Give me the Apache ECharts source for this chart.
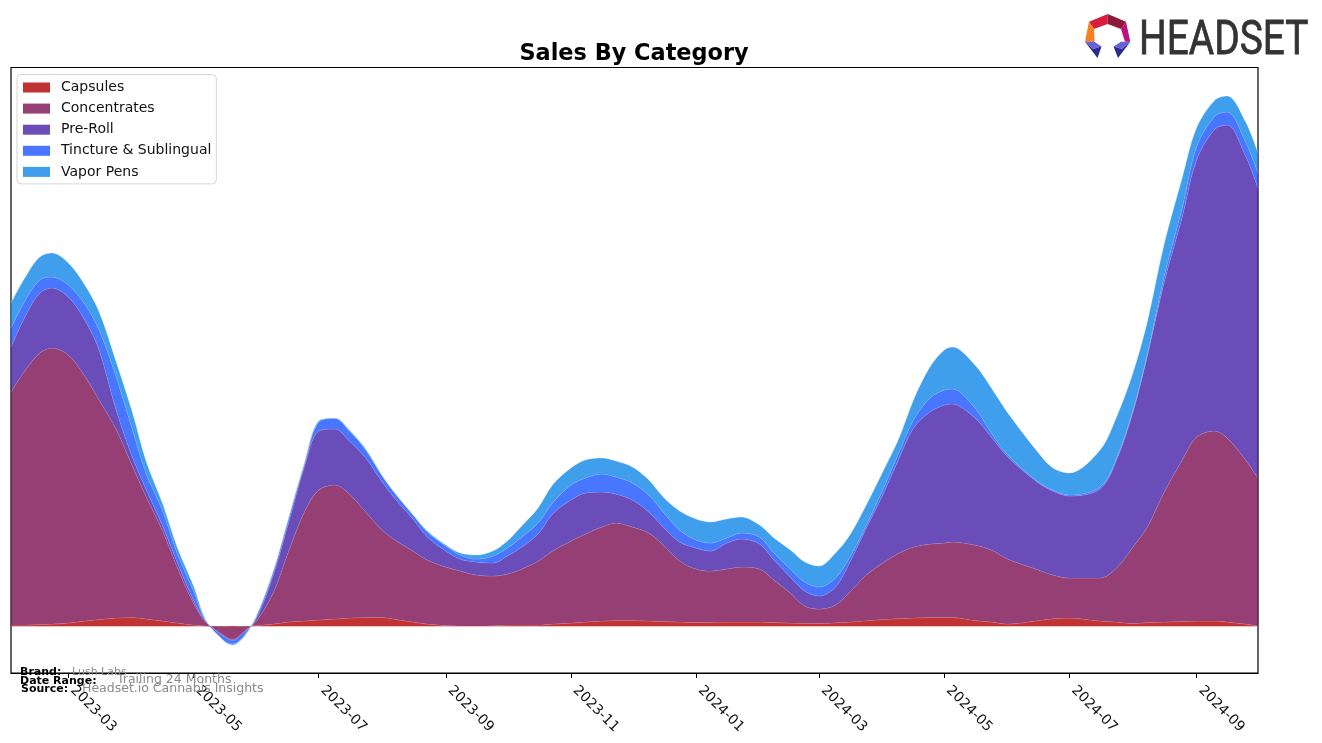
<!DOCTYPE html>
<html><head><meta charset="utf-8">
<style>html,body{margin:0;padding:0;background:#fff}#c{width:1322px;height:743px}</style>
<script src="https://cdn.jsdelivr.net/npm/echarts@6/dist/echarts.min.js"></script>
</head><body><div id="c"></div>
<script>
const dates = ['2023-02-01','2023-02-08','2023-02-15','2023-02-21','2023-03-01','2023-03-09','2023-03-16','2023-03-24','2023-04-01','2023-04-08','2023-04-16','2023-04-23','2023-05-01','2023-05-07','2023-05-16','2023-05-20','2023-05-26','2023-06-01','2023-06-09','2023-06-16','2023-06-24','2023-07-01','2023-07-09','2023-07-16','2023-07-24','2023-08-01','2023-08-08','2023-08-16','2023-08-23','2023-09-01','2023-09-08','2023-09-16','2023-09-24','2023-10-01','2023-10-08','2023-10-16','2023-10-23','2023-11-01','2023-11-08','2023-11-16','2023-11-23','2023-12-01','2023-12-09','2023-12-16','2023-12-24','2024-01-01','2024-01-08','2024-01-16','2024-01-23','2024-02-01','2024-02-08','2024-02-16','2024-02-23','2024-03-01','2024-03-09','2024-03-16','2024-03-24','2024-04-01','2024-04-09','2024-04-16','2024-04-24','2024-05-01','2024-05-05','2024-05-16','2024-05-24','2024-06-01','2024-06-16','2024-06-23','2024-07-01','2024-07-16','2024-07-24','2024-08-01','2024-08-08','2024-08-16','2024-08-25','2024-09-01','2024-09-10','2024-09-16','2024-09-25','2024-10-01'];
const capsules = [1,1,1.5,2,3,5,6.5,8,8.5,7,5,3,1,0,-0.5,-1,-0.5,0.5,2,4,5,6,7,8,8.5,8.5,6.5,4,2,0.5,0,0,0.3,1,1,1,2,3,4,5,5.5,5.5,5,4.5,4,3.5,3.7,4,4,4,3.5,3,2.7,2.5,3.3,4,5.3,6.5,7.5,8,8.5,8.5,8.5,5.5,4,2,5.5,7.3,8,5,4,2.5,3.5,4,4.5,5,5,4,2,0];
const concentrates = [233,255,271.5,276,268,245,219.5,190,152.5,122,90,56,22,4,-9.5,-12.5,-4.5,5.5,32,69,109,130,134,124,105.5,87.5,78.5,71,64,58.5,55,51,49.7,51,56,64,73,82,88,94,97.5,93.5,88,76.5,61,53.5,51.3,53,55,53,42.5,30,17.3,14.5,17.7,30,45.7,56.5,65.5,71,73.5,74.5,75.5,75.5,72,65,50.5,43.7,40,43,54,76.5,95.5,129,161.5,184,190,184,164,148];
const preRoll = [45,54,60,60,58,56,50,20,9,7,5,5,3,0.5,-1,-1,-1,3,18,28,45,59,56,53,54,48,40.5,32,23,16,12,13,13,18,22,27,37,41,41,35,29,27,21,18,19,21,20,26,28,25,20,16,15,13,18,30,47,68,95,119,132,138,138,127,113,102,87,84,82,89,108,135,171,209,243,277,302,313,304,290];
const tincture = [19,16,13,11,12,16,20,33,28,16,15,9,9,0.5,-4,-3.5,-3,2,3,4,3,9,10.5,10,8,6,5,4,5,5,4,3,7,8,10,11,11,15,15,18,17,17,17,15,12,8,8,5,6,7,7,8,9,9,9,5,3,5,6,8,14,15,15,10,4,2,1,1,1,2,2,2,2,6,9,13,13,13,14,15];
const vaporPens = [25,23,23,24,22,19,18,15,17,12,7,6,5,1,-0.5,-1,-1,1,1,1,1,1,0.5,1,1,0.5,0.5,0.5,1,1,2,4,5,7,11,15,18,17,18,16,16,16,15,15,19,21,21,19,16,12,15,19,20,21,25,22,20,18,14,20,31,40,42,43,45,42,29,22,22,37,41,37,32,32,30,19,16,16,20,20];
const tickLabels = ['2023-03','2023-05','2023-07','2023-09','2023-11','2024-01','2024-03','2024-05','2024-07','2024-09'];
const names = ['Capsules','Concentrates','Pre-Roll','Tincture & Sublingual','Vapor Pens'];
const colors = ['#b20000','#7a0f53','#4521a6','#1a54ff','#0f87e7'];
const values = [capsules, concentrates, preRoll, tincture, vaporPens];
const ts = s => new Date(s + 'T00:00:00').getTime();
const tickValues = tickLabels.map(s => ts(s + '-01'));
const font = 'DejaVu Sans';

const chart = echarts.init(document.getElementById('c'), null, {renderer:'canvas'});
const poly = (pts, fill) => ({type:'polygon', silent:true, z:50, shape:{points:pts}, style:{fill}});
const txt = (x,y,text,size,weight,fill) => ({type:'text', silent:true, z:60, x, y, style:{text, fontFamily:font, fontSize:size, fontWeight:weight, fill, textVerticalAlign:'middle'}});
chart.setOption({
  animation:false,
  backgroundColor:'#fff',
  title:{text:'Sales By Category', left:629, top:36, textAlign:'center',
    textStyle:{fontFamily:font,fontSize:22.4,fontWeight:'bold',color:'#000',lineHeight:26}},
  legend:{left:17, top:74.5, orient:'vertical', itemWidth:27, itemHeight:10, itemGap:7.1,
    padding:[6,5,5,6], backgroundColor:'#fff', borderColor:'#d5d5d5', borderWidth:1, borderRadius:4,
    icon:'rect', textStyle:{fontFamily:font,fontSize:14,color:'#111',padding:[0,0,0,6]},
    data:names.map((n,i)=>({name:n,itemStyle:{color:colors[i],opacity:0.8}}))},
  grid:{left:11, right:64, top:67.5, bottom:70, show:true, borderColor:'#000', borderWidth:1.2, backgroundColor:'transparent'},
  xAxis:[
    {type:'time', show:false, min:ts('2023-02-01'), max:ts('2024-10-01'), splitLine:{show:false}},
    {type:'value', position:'bottom', min:ts('2023-02-01'), max:ts('2024-10-01'),
     splitLine:{show:false},
     axisLine:{show:true,onZero:false,lineStyle:{color:'#000',width:1.2}},
     axisTick:{show:true,length:5,lineStyle:{color:'#000',width:1},customValues:tickValues},
     axisLabel:{show:true,rotate:-45,margin:11,padding:[0,0,0,6],color:'#111',fontFamily:font,fontSize:14,hideOverlap:false,
      customValues:tickValues,
      formatter:(v)=>{const d=new Date(v);return d.getFullYear()+'-'+String(d.getMonth()+1).padStart(2,'0');}}}
  ],
  yAxis:{type:'value', min:-47, max:558.5, show:false, splitLine:{show:false}},
  series:names.map((n,i)=>({
    name:n, type:'line', xAxisIndex:0, stack:'total', stackStrategy:'all', smooth:0.33, symbol:'none', showSymbol:false,
    z:2+i, clip:true,
    itemStyle:{color:colors[i]},
    lineStyle:{color:'rgba(255,255,255,0.3)',width:0.9},
    areaStyle:{color:colors[i],opacity:0.8},
    emphasis:{disabled:true},
    markLine: i===0 ? {silent:true,symbol:'none',label:{show:false},animation:false,
      lineStyle:{color:'rgba(193,50,50,0.3)',width:1,type:'solid'},data:[{yAxis:0}]} : undefined,
    data:dates.map((d,k)=>[d,values[i][k]])
  })),
  graphic:[
    txt(20,672,'Brand:',11,'bold','#000'),
    txt(72,672,'Lush Labs',11,'normal','#8a8a8a'),
    txt(20,681,'Date Range:',11,'bold','#000'),
    txt(117,680,'Trailing 24 Months',12.5,'normal','#8a8a8a'),
    txt(21,689.5,'Source:',11,'bold','#000'),
    txt(82,689,'Headset.io Cannabis Insights',12.5,'normal','#8a8a8a'),
    poly([[1107.7,14],[1089,21.7],[1094,29],[1107.7,24]],'#d81e3c'),
    poly([[1107.7,14],[1107.7,24],[1121,29],[1126,21.7]],'#8e1a3a'),
    poly([[1126,21.7],[1121,29],[1125,41.7],[1130.3,41.7]],'#c0107a'),
    poly([[1089,21.7],[1085,41.7],[1094.5,41.7],[1094,29]],'#f58020'),
    poly([[1085,41.7],[1094.5,41.7],[1101.5,46.5],[1093,49]],'#6a60d8'),
    poly([[1085,41.7],[1093,49],[1101.5,46.5],[1097.5,58]],'#2a2a90'),
    poly([[1130.3,41.7],[1121,41.7],[1113.5,46.5],[1122,49]],'#6a60d8'),
    poly([[1130.3,41.7],[1122,49],[1113.5,46.5],[1118,58]],'#2a2a90'),
    {type:'text',silent:true,z:60,x:1139,y:42,scaleX:0.81,style:{text:'HEADSET',fontFamily:'Liberation Sans Narrow, Roboto',fontSize:48,fill:'#333',stroke:'#333',lineWidth:0.8,textVerticalAlign:'middle'}}
  ]
});
</script></body></html>
